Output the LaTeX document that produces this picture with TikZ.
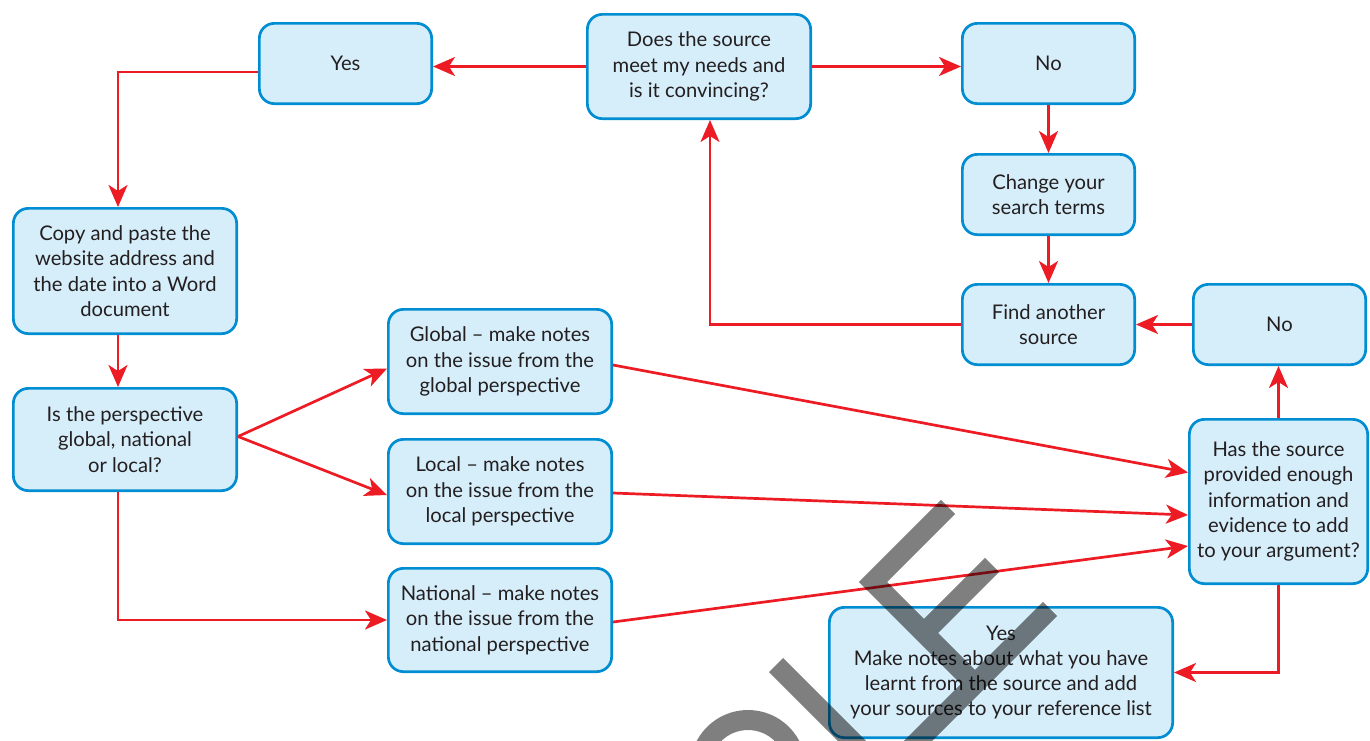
\documentclass[tikz,border=0pt]{standalone}
\usepackage{fontspec}
\setmainfont{Lato}
\usetikzlibrary{arrows.meta}
\definecolor{boxblue}{RGB}{0,141,210}
\definecolor{boxfill}{RGB}{214,237,250}
\definecolor{flowred}{RGB}{237,28,36}
\definecolor{ink}{RGB}{35,31,32}
\begin{document}
\begin{tikzpicture}[x=1pt,y=-1pt,
  box/.style={draw=boxblue, line width=2.7pt, fill=boxfill, rounded corners=15pt,
    align=center, text=ink, inner sep=0pt,
    font=\fontsize{20.2}{25.3}\selectfont},
  arr/.style={draw=flowred, line width=2.7pt,
    -{Stealth[length=22pt,width=19pt,inset=6pt]}},
  stamp/.style={black, opacity=0.5, line width=20pt, line join=miter, line cap=butt}]
\useasboundingbox (0,0) rectangle (1370,740);

% boxes
\node[box, minimum width=172.3, minimum height=80.3] (yes1) at (345.5,63.5) {Yes};
\node[box, minimum width=223.3, minimum height=104.3] (does) at (699,66.5)
  {Does the source\\meet my needs and\\is it convincing?};
\node[box, minimum width=172.3, minimum height=80.3] (no1) at (1048.5,63.5) {No};
\node[box, minimum width=172.3, minimum height=80.3] (change) at (1048.5,194.5)
  {Change your\\search terms};
\node[box, minimum width=172.3, minimum height=80.3] (find) at (1048.5,324.5)
  {Find another\\source};
\node[box, minimum width=172.3, minimum height=80.3] (no2) at (1279.5,324.5) {No};
\node[box, minimum width=178.3, minimum height=164.3] (has) at (1278.5,501.5)
  {Has the source\\provided enough\\information and\\evidence to add\\to your argument?};
\node[box, minimum width=223.3, minimum height=125.3] (copy) at (125,271)
  {Copy and paste the\\website address and\\the date into a Word\\document};
\node[box, minimum width=223.3, minimum height=102.3] (isp) at (125,439.5)
  {Is the perspective\\global, national\\or local?};
\node[box, minimum width=223.3, minimum height=104.3] (glob) at (500,361.5)
  {Global – make notes\\on the issue from the\\global perspective};
\node[box, minimum width=223.3, minimum height=104.3] (loc) at (500,491.5)
  {Local – make notes\\on the issue from the\\local perspective};
\node[box, minimum width=223.3, minimum height=103.3] (nat) at (500,620)
  {National – make notes\\on the issue from the\\national perspective};
\node[box, minimum width=343.3, minimum height=130.3] (notes) at (1001,672.5)
  {Yes\\Make notes about what you have\\learnt from the source and add\\your sources to your reference list};

% connectors
\draw[arr] (does.west) -- (does.west -| yes1.east);
\draw[arr] (does.east) -- (does.east -| no1.west);
\draw[arr] ([yshift=-8.5pt]yes1.west) -| ([xshift=-7pt]copy.north);
\draw[arr] ([xshift=-7pt]copy.south) -- ([xshift=-7pt]isp.north);
\draw[arr] ([yshift=3pt]isp.east) -- ([yshift=-7pt]glob.west);
\draw[arr] ([yshift=3pt]isp.east) -- ([yshift=-3.5pt]loc.west);
\draw[arr] ([xshift=-7pt]isp.south) |- (nat.west);
\draw[arr] ([yshift=-3.5pt]glob.east) -- ([yshift=29pt]has.west);
\draw[arr] ([yshift=-1.5pt]loc.east) -- ([yshift=-13.5pt]has.west);
\draw[arr] ([yshift=-2pt]nat.east) -- ([yshift=-44.5pt]has.west);
\draw[arr] (has.north) -- (has.north |- no2.south);
\draw[arr] (no2.west) -- (find.east);
\draw[arr] (no1.south) -- (change.north);
\draw[arr] (change.south) -- (find.north);
\draw[arr] (find.west) -| ([xshift=11pt]does.south);
\draw[arr] (has.south) |- (notes.east);

% stamp lettering across the lower part
\begin{scope}
  \clip (0,0) rectangle (1370,740);
  \draw[stamp]
    (776,665) -- (885,774) -- (1050,609)
    (948,507) -- (873,582) -- (975,684)
    (924,633) -- (992,565)
    (748,768) circle[radius=48];
\end{scope}
\end{tikzpicture}
\end{document}
